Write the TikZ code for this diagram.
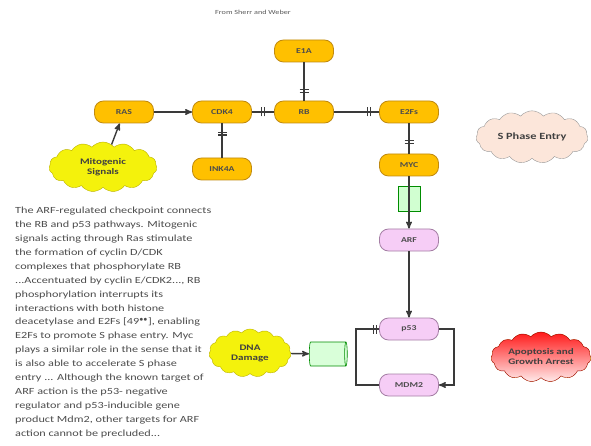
\documentclass[tikz,border=0pt]{standalone}
\usepackage{fontspec}
\setmainfont{Carlito}
\newfontfamily\widefont[FakeStretch=1.3]{Carlito}
\usetikzlibrary{arrows, shapes, decorations.markings}
\definecolor{gold}{HTML}{FFC000}
\definecolor{golddraw}{HTML}{C08A10}
\definecolor{lilac}{HTML}{F6CDF6}
\definecolor{lilacdraw}{HTML}{A57FA5}
\definecolor{lemon}{HTML}{F4F20C}
\definecolor{peach}{HTML}{FCE6DA}
\definecolor{linegray}{HTML}{3A3A3A}
\tikzset{>=stealth', x=1pt, y=1pt,
  gene/.style={rectangle, rounded corners=9pt, draw=golddraw, fill=gold, line width=0.8pt,
    minimum width=59pt, minimum height=22pt, inner sep=1pt,
    font=\widefont\fontsize{7.5}{8}\selectfont\bfseries\color{black!70}},
  pinkgene/.style={gene, draw=lilacdraw, fill=lilac},
  puff/.style={cloud, cloud puffs=15, cloud puff arc=100, aspect=2.3, draw=olive!60!yellow, fill=lemon,
    inner sep=1pt, align=center, font=\widefont\fontsize{8.5}{10}\selectfont\bfseries\color{black!75}},
  conn/.style={->, line width=1.4pt, draw=linegray},
  blockat/.style={postaction={decorate, decoration={markings, mark=at position #1 with
    {\draw[line width=1.2pt, linegray] (-1.4pt,-4.5pt) -- (-1.4pt,4.5pt) (1.4pt,-4.5pt) -- (1.4pt,4.5pt);}}}}
}

\begin{document}
\begin{tikzpicture}
    \useasboundingbox (0,0) rectangle (591,-446);
    \node[font=\widefont\fontsize{6.3}{7}\selectfont\color{black!65}] (title) at (253,-12) {From Sherr and Weber};

    % top pathway
    \node[gene] (ras) at (124,-112) {RAS};
    \node[gene, node distance=98pt, right of=ras] (cdk4) {CDK4};
    \node[gene, node distance=82pt, right of=cdk4] (rb) {RB};
    \node[gene, node distance=105pt, right of=rb] (e2fs) {E2Fs};
    \node[gene, node distance=61pt, above of=rb] (e1a) {E1A};
    \node[gene, node distance=57pt, below of=cdk4] (ink4a) {INK4A};
    \node[gene, node distance=53pt, below of=e2fs] (myc) {MYC};

    % p53 part
    \node[rectangle, draw=green!55!black, fill=green!18, line width=0.6pt, minimum width=22pt,
        minimum height=25pt, node distance=34pt, below of=myc] (gate) {};
    \node[pinkgene, node distance=75pt, below of=myc] (arf) {ARF};
    \node[pinkgene, node distance=89pt, below of=arf] (p53) {p53};
    \node[pinkgene, node distance=56pt, below of=p53] (mdm2) {MDM2};
    \node[cylinder, draw=green!55!black, fill=green!15, line width=0.6pt, minimum width=24pt,
        minimum height=38pt, aspect=0.4] (sensor) at (327,-354) {};

    % clouds
    \node[puff, minimum width=108pt, minimum height=50pt] (mito) at (103,-167) {Mitogenic\\Signals};
    \node[puff, minimum width=82pt, minimum height=48pt] (dna) at (250,-353) {DNA\\Damage};
    \node[puff, draw=black!40, fill=peach, minimum width=112pt, minimum height=48pt,
        font=\widefont\fontsize{9.5}{10}\selectfont\bfseries\color{black!75}] (sphase) at (532,-137) {S Phase Entry};
    \node[puff, draw=red!60!black, top color=red!90, bottom color=red!8, minimum width=100pt,
        minimum height=50pt] (apop) at (541,-357) {Apoptosis and\\Growth Arrest};

    \node[anchor=north west, align=left, inner sep=0pt, text=black!70,
        font=\widefont\fontsize{9.4}{13.9}\selectfont] (note) at (15,-207)
        {The ARF-regulated checkpoint connects\\
        the RB and p53 pathways. Mitogenic\\
        signals acting through Ras stimulate\\
        the formation of cyclin D/CDK\\
        complexes that phosphorylate RB\\
        ...Accentuated by cyclin E/CDK2..., RB\\
        phosphorylation interrupts its\\
        interactions with both histone\\
        deacetylase and E2Fs [49$^{\bullet\bullet}$], enabling\\
        E2Fs to promote S phase entry. Myc\\
        plays a similar role in the sense that it\\
        is also able to accelerate S phase\\
        entry ... Although the known target of\\
        ARF action is the p53- negative\\
        regulator and p53-inducible gene\\
        product Mdm2, other targets for ARF\\
        action cannot be precluded...};

    % connectors
    \draw[conn] (mito) -- (ras);
    \draw[conn] (ras) -- (cdk4);
    \draw[conn, -, blockat=0.5] (cdk4) -- (rb);
    \draw[conn, -, blockat=0.75] (e1a) -- (rb);
    \draw[conn, -, blockat=0.7] (ink4a) -- (cdk4);
    \draw[conn, -, blockat=0.78] (rb) -- (e2fs);
    \draw[conn, -, blockat=0.62] (e2fs) -- (myc);
    \draw[conn] (myc) -- (arf);
    \draw[conn] (arf) -- (p53);
    \draw[conn] (p53.east) -- ++(15,0) |- (mdm2.east);
    \draw[conn, -, blockat=0.96] (mdm2.west) -- ++(-23,0) |- (p53.west);
    \draw[conn] (dna) -- (sensor);
\end{tikzpicture}
\end{document}
